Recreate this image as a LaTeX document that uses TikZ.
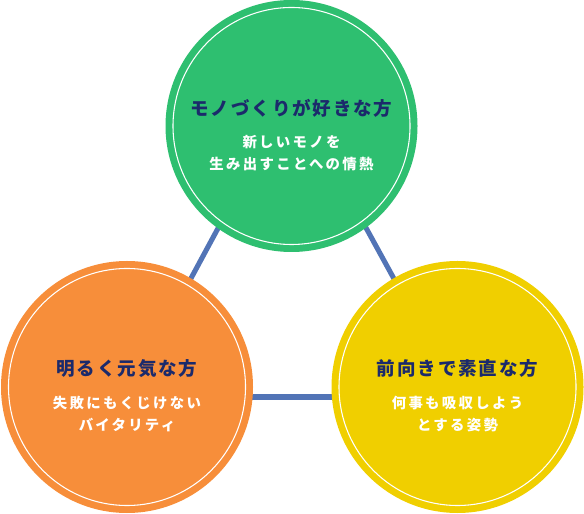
\documentclass[tikz,border=0pt]{standalone}
\usepackage{fontspec}
\usepackage{tikz}
\usetikzlibrary{positioning,backgrounds}
\newfontfamily\jp{Noto Sans CJK JP}
\definecolor{Green}{HTML}{2EBF70}
\definecolor{Orange}{HTML}{F78E3A}
\definecolor{Yellow}{HTML}{F0CF00}
\definecolor{Navy}{HTML}{1B2A6B}
\definecolor{Link}{HTML}{5274B6}
\tikzset{ball/.style={circle,minimum size=189pt,inner sep=0pt},ring/.style={draw=white,line width=0.8pt},head/.style={inner sep=0pt,text=Navy,font=\jp\bfseries\fontsize{13.9pt}{16pt}\selectfont\addfontfeature{LetterSpace=10}},sub/.style={inner sep=0pt,text=white,align=center,font=\jp\bfseries\fontsize{10.8pt}{16.5pt}\selectfont\addfontfeature{LetterSpace=16}},link/.style={draw=Link,line width=3.8pt}}

\begin{document}
\begin{tikzpicture}[x=0.75pt,y=0.75pt]
      \useasboundingbox(0,0)rectangle(584,513);
      \node[ball,fill=Green](mono)at(291.5,387){};
      \node[ball,fill=Orange](genki)at(127,126){};
      \node[ball,fill=Yellow](sunao)at(457.5,126){};
      \draw[ring](mono.center)circle[radius=118.5];\draw[ring](genki.center)circle[radius=118.5];\draw[ring](sunao.center)circle[radius=118.5];
      \begin{scope}[on background layer]
        \draw[link]([yshift=25.5pt]mono.center)--([yshift=-7.5pt]genki.center);
        \draw[link]([yshift=25.5pt]mono.center)--([xshift=1pt,yshift=-7.5pt]sunao.center);
        \draw[link]([yshift=-7.5pt]genki.center)--([xshift=1pt,yshift=-7.5pt]sunao.center);
      \end{scope}
      \node[head](monohead)at([yshift=13.5pt]mono.center){モノづくりが好きな方};
      \node[sub,below=13.5pt of monohead](monosub){新しいモノを\\生み出すことへの情熱};
      \node[head](genkihead)at([yshift=14pt]genki.center){明るく元気な方};
      \node[sub,below=13.5pt of genkihead](genkisub){失敗にもくじけない\\バイタリティ};
      \node[head](sunaohead)at([yshift=14pt]sunao.center){前向きで素直な方};
      \node[sub,below=13.5pt of sunaohead](sunaosub){何事も吸収しよう\\とする姿勢};
    \end{tikzpicture}
\end{document}
